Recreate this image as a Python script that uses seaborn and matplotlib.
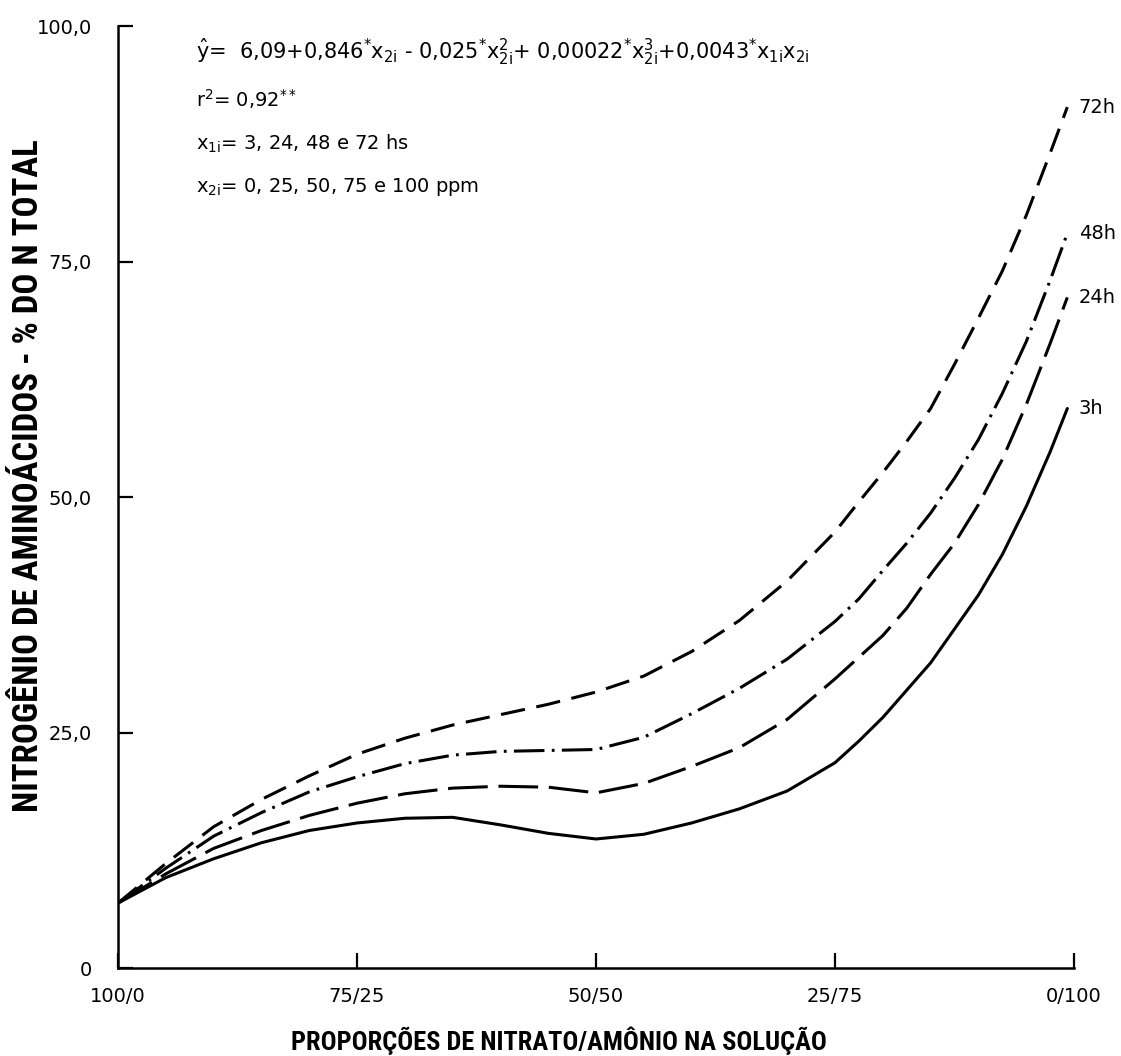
import matplotlib
matplotlib.use("Agg")
import matplotlib.pyplot as plt
import pandas as pd
import seaborn as sns
from matplotlib import font_manager

# Proporção de amônio na solução (ppm de N-NH4, 0 = só nitrato, 100 = só amônio)
amonio = [0, 5, 10, 15, 20, 25, 30, 35, 40, 45, 50, 55, 60, 65, 70, 75, 77.5, 80, 82.5, 85, 87.5,
          90, 92.5, 95, 97.5, 99.3]

# N de aminoácidos (% do N total) para cada tempo de exposição
n_3h = [6.9, 9.6, 11.6, 13.3, 14.6, 15.4, 15.9, 16.0, 15.2, 14.3, 13.7, 14.2, 15.4, 16.9, 18.8, 21.8,
        24.1, 26.6, 29.5, 32.4, 36.0, 39.6, 43.9, 49.0, 54.8, 59.4]
n_24h = [6.9, 10.0, 12.7, 14.6, 16.2, 17.5, 18.5, 19.1, 19.3, 19.2, 18.6, 19.6, 21.4, 23.4, 26.4, 30.7,
         33.0, 35.3, 38.2, 41.8, 45.1, 49.2, 54.0, 59.8, 66.3, 71.2]
n_48h = [6.9, 10.6, 14.0, 16.5, 18.7, 20.3, 21.7, 22.6, 23.0, 23.1, 23.2, 24.5, 27.0, 29.7, 32.8, 36.8,
         39.2, 42.2, 45.1, 48.3, 52.0, 56.1, 61.0, 66.5, 73.0, 78.0]
n_72h = [6.9, 11.1, 15.0, 17.9, 20.4, 22.7, 24.4, 25.8, 26.9, 28.0, 29.3, 31.0, 33.6, 36.9, 41.1, 46.3,
         49.5, 52.6, 55.9, 59.4, 64.1, 69.0, 74.0, 79.9, 86.5, 91.4]

tempos = ["3h", "24h", "48h", "72h"]
rotulos_tempo = ["3h", "24h", "48h", "72h"]

x_ticks = [0, 25, 50, 75, 100]
x_ticklabels = ["100/0", "75/25", "50/50", "25/75", "0/100"]
y_ticks = [0, 25, 50, 75, 100]
y_ticklabels = ["0", "25,0", "50,0", "75,0", "100,0"]

sns.set_style("ticks")
plt.rcParams["font.family"] = ["DejaVu Sans"]
plt.rcParams["mathtext.fontset"] = "dejavusans"
for key in ("text.color", "axes.labelcolor", "xtick.color", "ytick.color", "axes.edgecolor"):
    plt.rcParams[key] = "black"

installed = {f.name for f in font_manager.fontManager.ttflist}
bold_family = next((f for f in ["Roboto Condensed", "Liberation Sans Narrow", "Liberation Sans"]
                    if f in installed), "DejaVu Sans")

series = {"3h": n_3h, "24h": n_24h, "48h": n_48h, "72h": n_72h}
df = pd.concat(
    [pd.DataFrame({"amonio": amonio, "nitrogenio": vals, "tempo": t}) for t, vals in series.items()],
    ignore_index=True,
)

fig = plt.figure(figsize=(11.21, 10.56), dpi=100)
ax = fig.add_axes([0.1053, 0.0833, 0.8528, 0.892])

line_dashes = {"3h": "", "24h": (13, 3.5), "48h": (10, 2.4, 0.9, 2.4), "72h": (8, 3.8)}
sns.lineplot(
    data=df, x="amonio", y="nitrogenio", style="tempo", style_order=tempos,
    dashes=line_dashes, color="black", linewidth=2.2, estimator=None,
    legend=False, ax=ax,
)
for line in ax.get_lines():
    line.set_solid_joinstyle("round")
    line.set_dash_joinstyle("round")

ax.set_xlim(0, 100)
ax.set_ylim(0, 100)
ax.set_xticks(x_ticks, x_ticklabels)
ax.set_yticks(y_ticks, y_ticklabels)
ax.tick_params(axis="both", direction="in", length=11, width=1.6, labelsize=14, colors="black")
ax.tick_params(axis="x", pad=14)
ax.tick_params(axis="y", pad=19)
sns.despine(ax=ax)
for side in ("left", "bottom"):
    ax.spines[side].set_linewidth(1.8)
    ax.spines[side].set_color("black")

ax.set_xlabel("PROPORÇÕES DE NITRATO/AMÔNIO NA SOLUÇÃO", family=bold_family,
              fontweight="bold", fontsize=19)
ax.xaxis.set_label_coords(0.461, -0.062)
ax.set_ylabel("NITROGÊNIO DE AMINOÁCIDOS - % DO N TOTAL", family=bold_family,
              fontweight="bold", fontsize=25)
ax.yaxis.set_label_coords(-0.076, 0.523)

# Rótulos de tempo ao fim de cada curva
for t, lab in zip(tempos, rotulos_tempo):
    ax.text(100.5, series[t][-1], lab, ha="left", va="center", fontsize=14, clip_on=False)

# Equação de regressão e legendas das variáveis
ax.text(8.2, 97.2,
        r"$\hat{\mathrm{y}}$=  6,09+0,846$^{*}\mathrm{x}_{\mathrm{2i}}$ - 0,025$^{*}\mathrm{x}_{\mathrm{2i}}^{2}$"
        r"+ 0,00022$^{*}\mathrm{x}_{\mathrm{2i}}^{3}$+0,0043$^{*}\mathrm{x}_{\mathrm{1i}}\mathrm{x}_{\mathrm{2i}}$",
        fontsize=15, va="center", ha="left")
ax.text(8.2, 92.3, r"r$^{2}$= 0,92$^{**}$", fontsize=14, va="center", ha="left")
ax.text(8.2, 87.5, r"$\mathrm{x}_{\mathrm{1i}}$= 3, 24, 48 e 72 hs", fontsize=14, va="center", ha="left")
ax.text(8.2, 82.9, r"$\mathrm{x}_{\mathrm{2i}}$= 0, 25, 50, 75 e 100 ppm", fontsize=14, va="center", ha="left")

fig.savefig("out.png", dpi=100)
